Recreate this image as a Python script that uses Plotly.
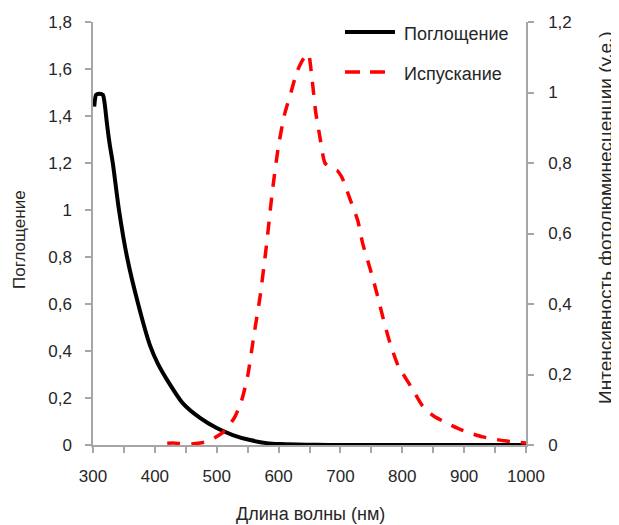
import plotly.graph_objects as go

# Absorption (left axis)
abs_nm = [302, 305, 310, 316, 319, 322, 327, 332, 342, 355, 373, 392, 405, 420, 445, 473,
          500, 526, 554, 581, 602, 630, 660, 700, 800, 900, 1000]
abs_val = [1.44, 1.49, 1.495, 1.49, 1.45, 1.38, 1.28, 1.2, 1.0, 0.8, 0.6, 0.425, 0.345, 0.276,
           0.178, 0.115, 0.072, 0.0425, 0.021, 0.008, 0.004, 0.002, 0.001, 0.0, 0.0, 0.0, 0.0]

# Emission (right axis)
em_nm = [420, 430, 440, 450, 460, 470, 480, 490, 500, 510, 520, 530, 540, 550, 560, 570, 580,
         590, 600, 610, 620, 630, 640, 648, 654, 660, 667, 675, 685, 695, 703, 715, 728, 736,
         748, 759, 769, 780, 793, 800, 816, 833, 850, 872, 890, 909, 930, 947, 965, 985, 1000]
em_val = [0.005, 0.006, 0.004, 0.002, 0.003, 0.005, 0.008, 0.014, 0.024, 0.036, 0.055, 0.082,
          0.125, 0.195, 0.31, 0.42, 0.56, 0.72, 0.85, 0.94, 1.0, 1.06, 1.095, 1.11, 1.04, 0.945,
          0.872, 0.8, 0.785, 0.778, 0.757, 0.7, 0.637, 0.572, 0.5, 0.43, 0.36, 0.29, 0.226, 0.205,
          0.16, 0.11, 0.083, 0.062, 0.047, 0.034, 0.023, 0.017, 0.012, 0.008, 0.006]

series_names = ["Поглощение", "Испускание"]
x_title = "Длина волны (нм)"
y_title = "Поглощение"
y2_title = "Интенсивность фотолюминесценции (у.е.)"

FONT = "Liberation Sans, Arial, Helvetica, sans-serif"
TXT = "#262626"
AX = "#a6a6a6"

# page body has an 8px margin; shift the figure accordingly
OFF = 8
W, H = 619 - OFF, 525 - OFF
PL, PR, PT, PB = 93, 526, 22, 445  # plot box in window pixels
L, R, T, B = PL - OFF, W - (PR - OFF), PT - OFF, H - (PB - OFF)
pw, ph = W - L - R, H - T - B

def px(xp):
    return (xp - OFF - L) / pw

def py(yp):
    return (H - B - (yp - OFF)) / ph

fig = go.Figure()
fig.add_trace(go.Scatter(x=abs_nm, y=abs_val, mode="lines", name=series_names[0],
                         line=dict(color="black", width=4, shape="spline", smoothing=0.6),
                         yaxis="y"))
fig.add_trace(go.Scatter(x=em_nm, y=em_val, mode="lines", name=series_names[1],
                         line=dict(color="#ff0000", width=3.5, dash="13px,11px",
                                   shape="spline", smoothing=0.6),
                         yaxis="y2"))

axis_common = dict(showgrid=False, zeroline=False, showline=True, linecolor=AX, linewidth=1.5,
                   ticks="outside", tickcolor=AX, ticklen=6, tickwidth=1.5,
                   tickfont=dict(family=FONT, size=17, color=TXT))

fig.update_layout(
    width=W, height=H,
    margin=dict(l=L, r=R, t=T, b=B, autoexpand=False),
    paper_bgcolor="white", plot_bgcolor="white",
    showlegend=False,
    separators=", ",
    font=dict(family=FONT, size=17, color=TXT),
    xaxis=dict(range=[300, 1000], dtick=100, tick0=300,
               minor=dict(dtick=50, ticks="outside", ticklen=6, tickcolor=AX, tickwidth=1.5),
               ticklabelstandoff=9, **axis_common),
    yaxis=dict(range=[0, 1.8], dtick=0.2, ticklabelstandoff=10, **axis_common),
    yaxis2=dict(range=[0, 1.2], dtick=0.2, overlaying="y", side="right",
                ticklabelstandoff=11, **axis_common),
)

# legend drawn manually
fig.add_shape(type="line", xref="paper", yref="paper", x0=px(345), x1=px(395),
              y0=py(32), y1=py(32), line=dict(color="black", width=4))
fig.add_shape(type="line", xref="paper", yref="paper", x0=px(345), x1=px(392),
              y0=py(72), y1=py(72), line=dict(color="#ff0000", width=3.5, dash="15px,10px"))
fig.add_annotation(xref="paper", yref="paper", x=px(402), y=py(34), text=series_names[0],
                   showarrow=False, xanchor="left", yanchor="middle",
                   font=dict(family=FONT, size=18, color=TXT))
fig.add_annotation(xref="paper", yref="paper", x=px(402), y=py(74), text=series_names[1],
                   showarrow=False, xanchor="left", yanchor="middle",
                   font=dict(family=FONT, size=18, color=TXT))

# axis titles
fig.add_annotation(xref="paper", yref="paper", x=px(310), y=py(514), text=x_title,
                   showarrow=False, xanchor="center", yanchor="middle",
                   font=dict(family=FONT, size=18, color=TXT))
fig.add_annotation(xref="paper", yref="paper", x=px(19), y=py(240), text=y_title,
                   showarrow=False, textangle=-90, xanchor="center", yanchor="middle",
                   font=dict(family=FONT, size=17, color=TXT))
fig.add_annotation(xref="paper", yref="paper", x=px(605), y=py(218), text=y2_title,
                   showarrow=False, textangle=-90, xanchor="center", yanchor="middle",
                   font=dict(family=FONT, size=19, color=TXT))

fig.write_html("out.html")
